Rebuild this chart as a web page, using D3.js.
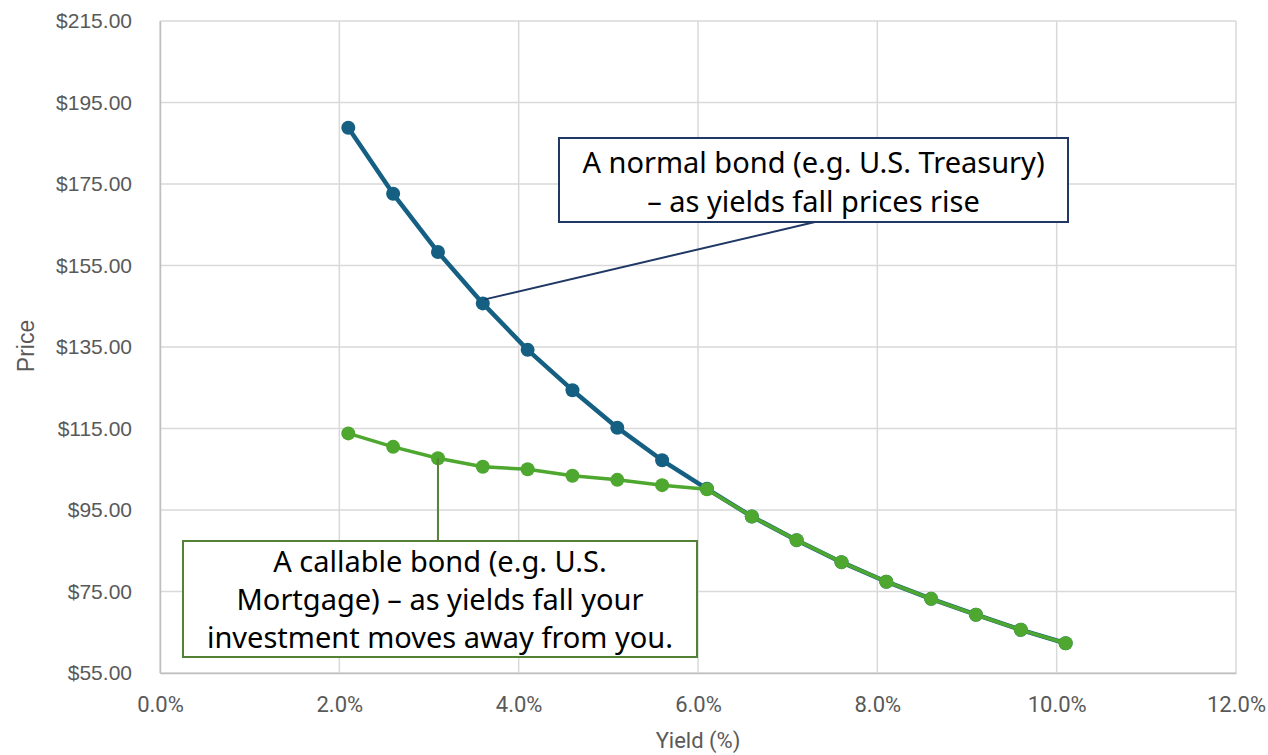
<!DOCTYPE html>
<html>
<head>
<meta charset="utf-8">
<script src="https://cdn.jsdelivr.net/npm/d3@7/dist/d3.min.js"></script>
<style>
  html, body { margin: 0; padding: 0; background: #ffffff; }
  svg { display: block; }
</style>
</head>
<body>
<svg id="chart" width="1268" height="755"></svg>
<script>
// Yield (%) for each observation
const yields = [2.1, 2.6, 3.1, 3.6, 4.1, 4.6, 5.1, 5.6, 6.1, 6.6, 7.1, 7.6, 8.1, 8.6, 9.1, 9.6, 10.1];
// Price of a plain (non-callable) bond
const normalPrices = [188.8, 172.6, 158.3, 145.7, 134.3, 124.4, 115.2, 107.2, 100.2, 93.4, 87.6, 82.2, 77.4, 73.2, 69.3, 65.6, 62.3];
// Price of a callable bond
const callablePrices = [113.8, 110.5, 107.7, 105.6, 105.0, 103.4, 102.4, 101.1, 100.1, 93.4, 87.6, 82.2, 77.4, 73.2, 69.3, 65.6, 62.3];
// Axis ticks
const xTicks = [0, 2, 4, 6, 8, 10, 12];
const yTicks = [55, 75, 95, 115, 135, 155, 175, 195, 215];
// Callout texts
const normalNote = ["A normal bond (e.g. U.S. Treasury)", "\u2013 as yields fall prices rise"];
const callableNote = ["A callable bond (e.g. U.S.", "Mortgage) \u2013 as yields fall your", "investment moves away from you."];

(function () {
  const svg = d3.select("#chart");
  const plotLeft = 160, plotRight = 1236, plotTop = 21, plotBottom = 673;

  const x = d3.scaleLinear().domain([0, 12]).range([plotLeft, plotRight]);
  const y = d3.scaleLinear().domain([55, 215]).range([plotBottom, plotTop]);

  // Gridlines
  const grid = svg.append("g");
  grid.selectAll("line.h").data(yTicks).join("line").attr("class", "h")
    .attr("x1", plotLeft).attr("x2", plotRight)
    .attr("y1", d => y(d)).attr("y2", d => y(d))
    .attr("stroke", "#d9d9d9").attr("stroke-width", 1.5);
  grid.selectAll("line.v").data(xTicks).join("line").attr("class", "v")
    .attr("y1", plotTop).attr("y2", plotBottom)
    .attr("x1", d => x(d)).attr("x2", d => x(d))
    .attr("stroke", "#d9d9d9").attr("stroke-width", 1.5);

  // Axes
  const xAxis = svg.append("g").attr("transform", `translate(0,${plotBottom})`)
    .call(d3.axisBottom(x).tickValues(xTicks).tickSize(0).tickPadding(23)
      .tickFormat(d => d.toFixed(1) + "%"));
  xAxis.select(".domain").attr("stroke", "#bfbfbf").attr("stroke-width", 1.5);
  xAxis.selectAll("text").attr("fill", "#595959")
    .style("font-family", "Roboto, 'Liberation Sans', sans-serif").style("font-size", "22px");

  const yAxis = svg.append("g").attr("transform", `translate(${plotLeft},0)`)
    .call(d3.axisLeft(y).tickValues(yTicks).tickSize(0).tickPadding(28)
      .tickFormat(d => "$" + d.toFixed(2)));
  yAxis.select(".domain").attr("stroke", "#bfbfbf").attr("stroke-width", 1.5);
  yAxis.selectAll("text").attr("fill", "#595959")
    .style("font-family", "'Liberation Sans', Arial, sans-serif").style("font-size", "21px");

  // Axis titles
  svg.append("text").attr("transform", "translate(34,346) rotate(-90)")
    .attr("text-anchor", "middle").attr("fill", "#595959")
    .style("font-family", "'Liberation Sans', Arial, sans-serif").style("font-size", "23px")
    .text("Price");
  svg.append("text").attr("x", 698).attr("y", 748)
    .attr("text-anchor", "middle").attr("fill", "#595959")
    .style("font-family", "Roboto, 'Liberation Sans', sans-serif").style("font-size", "22px")
    .text("Yield (%)");

  // Series
  const normalData = yields.map((v, i) => ({ x: v, y: normalPrices[i] }));
  const callableData = yields.map((v, i) => ({ x: v, y: callablePrices[i] }));
  const line = d3.line().x(d => x(d.x)).y(d => y(d.y));

  function drawSeries(data, color, width, r) {
    const g = svg.append("g");
    g.append("path").datum(data).attr("d", line)
      .attr("fill", "none").attr("stroke", color).attr("stroke-width", width)
      .attr("stroke-linejoin", "round");
    g.selectAll("circle").data(data).join("circle")
      .attr("cx", d => x(d.x)).attr("cy", d => y(d.y)).attr("r", r)
      .attr("fill", color);
  }
  drawSeries(normalData, "#156082", 4.5, 7);
  drawSeries(callableData, "#4ea72e", 3.5, 7);

  // Callouts
  const noteFont = "'Noto Sans', 'Open Sans', sans-serif";

  function callout(box, lines, color, baseline0, lineGap, leader, fontSize) {
    const g = svg.append("g");
    g.append("line")
      .attr("x1", leader[0]).attr("y1", leader[1])
      .attr("x2", leader[2]).attr("y2", leader[3])
      .attr("stroke", color).attr("stroke-width", 2);
    g.append("rect")
      .attr("x", box[0]).attr("y", box[1]).attr("width", box[2] - box[0]).attr("height", box[3] - box[1])
      .attr("fill", "#ffffff").attr("stroke", color).attr("stroke-width", 2);
    g.selectAll("text").data(lines).join("text")
      .attr("x", (box[0] + box[2]) / 2)
      .attr("y", (d, i) => baseline0 + i * lineGap)
      .attr("text-anchor", "middle").attr("fill", "#000000")
      .style("font-family", noteFont).style("font-size", fontSize + "px")
      .text(d => d);
  }

  // Normal bond callout, leader to the 3.6% point
  callout([559, 138, 1068, 222], normalNote, "#1f3864", 173, 39,
    [x(yields[3]) + 2, y(normalPrices[3]) - 4, 815, 222], 29);

  // Callable bond callout, leader from the 3.1% point
  callout([183, 541, 697, 657], callableNote, "#548235", 572, 38,
    [x(yields[2]), y(callablePrices[2]), x(yields[2]), 541], 29);
})();
</script>
</body>
</html>
